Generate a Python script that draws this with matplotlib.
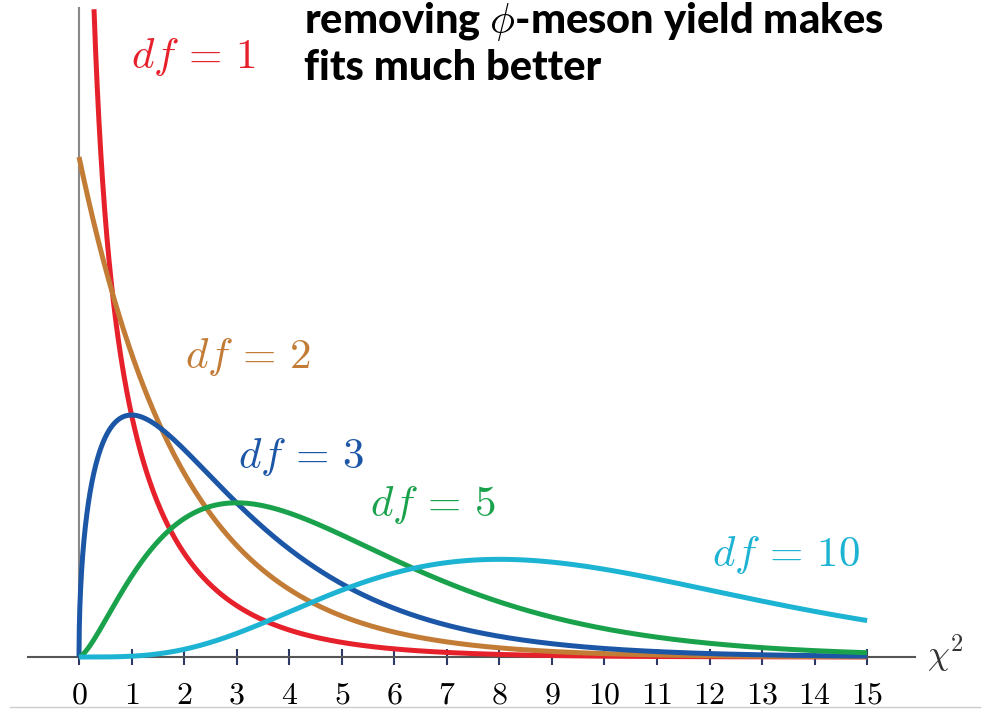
import matplotlib
matplotlib.use('Agg')
import matplotlib.pyplot as plt
import numpy as np
from math import gamma

plt.rcParams['mathtext.fontset'] = 'cm'

# Degrees of freedom shown and their colours
dfs = [1, 2, 3, 5, 10]
colors = ['#e6212b', '#c27c36', '#1c56a6', '#19a24b', '#1db3d3']
tick_values = list(range(0, 16))

# label anchor (x, y) in data units for each curve
label_pos = [(2.17, 0.600), (3.22, 0.300), (4.23, 0.200), (6.74, 0.152), (13.46, 0.102)]

y_top = 0.649


def chi2_pdf(x, k):
    return x ** (k / 2 - 1) * np.exp(-x / 2) / (2 ** (k / 2) * gamma(k / 2))


fig = plt.figure(figsize=(9.99, 7.14), dpi=100)
ax = fig.add_axes([0, 0, 1, 1])
ax.set_xlim(-1.504, 17.51)
ax.set_ylim(-0.057, 0.657)

x = np.linspace(1e-4, 15, 3000)
for k, c, (lx, ly) in zip(dfs, colors, label_pos):
    y = chi2_pdf(x, k)
    xs, ys = x, y
    if k == 1:
        keep = y <= y_top
        xs, ys = x[keep], y[keep]
    elif k > 2:
        xs = np.concatenate([[0], x])
        ys = np.concatenate([[0], y])
    else:
        xs = np.concatenate([[0], x])
        ys = np.concatenate([[0.5], y])
    ax.plot(xs, ys, color=c, lw=3.6, solid_capstyle='butt', zorder=3)
    ax.text(lx, ly, r'$\mathit{df}\,=\,%d$' % k, color=c, fontsize=31,
            ha='center', va='center')

# axes drawn as spines through the origin
for side in ['top', 'right']:
    ax.spines[side].set_visible(False)
ax.spines['bottom'].set_position(('data', 0))
ax.spines['left'].set_position(('data', 0))
ax.spines['bottom'].set_bounds(-0.97, 15.92)
ax.spines['left'].set_bounds(0, y_top)
ax.spines['bottom'].set_color('#555555')
ax.spines['left'].set_color('#888888')
ax.spines['bottom'].set_linewidth(1.5)
ax.spines['left'].set_linewidth(1.5)

ax.set_yticks([])
ax.set_xticks(tick_values)
ax.set_xticklabels([r'$%d$' % v for v in tick_values], fontsize=23)
ax.tick_params(axis='x', direction='inout', length=11, width=1.5,
               color='#2e3a66', pad=11)

ax.text(16.49, 0.004, r'$\chi^2$', fontsize=25, color='#333333',
        ha='center', va='center')

# thin rule near the bottom edge
fig.add_artist(plt.Line2D([10 / 999, 980 / 999], [1 - 707 / 714] * 2,
                          color='#cccccc', lw=1))

title_kw = dict(fontsize=30, fontweight=900, family=['Lato', 'DejaVu Sans'],
                va='baseline', ha='left')
fig.text(304 / 999, 1 - 33 / 714, r'removing $\phi$-meson yield makes', **title_kw)
fig.text(304 / 999, 1 - 80 / 714, 'fits much better', **title_kw)

fig.savefig('out.png', dpi=100)
